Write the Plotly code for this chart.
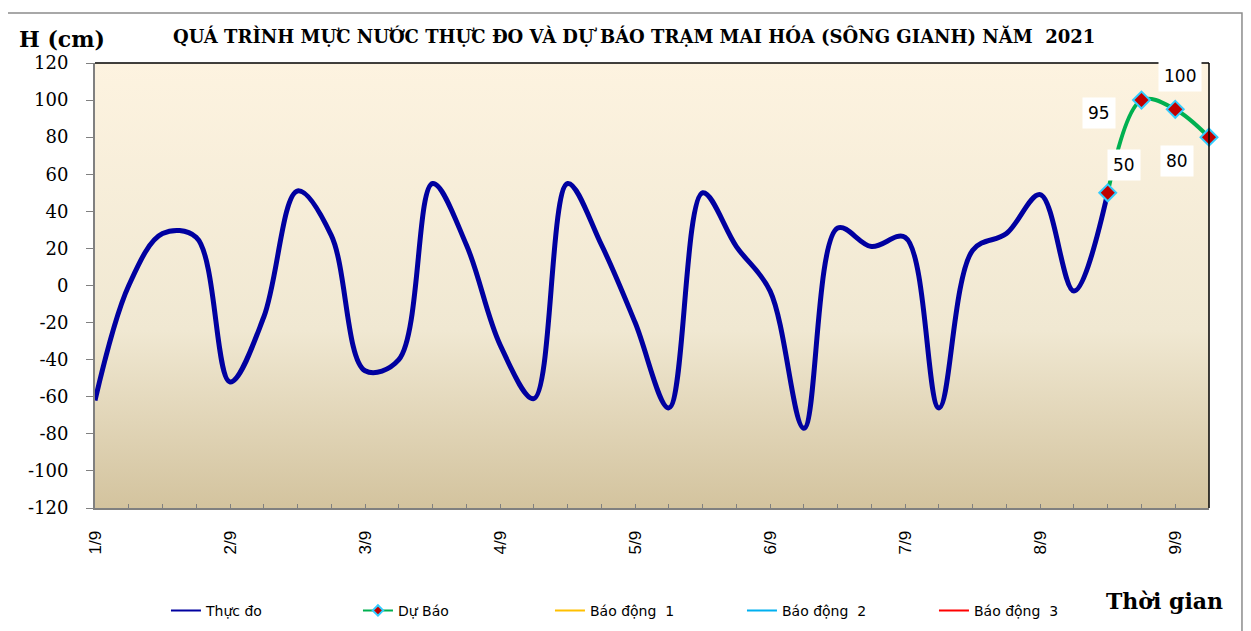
import plotly.graph_objects as go

# ---- data (6-hourly points, from 1/9 00h) ----
day_labels = ["1/9", "2/9", "3/9", "4/9", "5/9", "6/9", "7/9", "8/9", "9/9"]
steps_per_day = 4
observed = [-62, 0, 28, 26, -52, -17, 51, 27, -46, -40, 55, 22, -32, -61, 55, 22,
            -20, -66, 50, 21, -3, -77, 31, 21, 26, -66, 19, 28, 49, -3, 50]
forecast = [50, 100, 95, 80]
forecast_start = len(observed) - 1
y_ticks = [-120, -100, -80, -60, -40, -20, 0, 20, 40, 60, 80, 100, 120]
y_tick_text = [str(v) for v in y_ticks]
alarm_names = ["Báo động\u00a0 1", "Báo động\u00a0 2", "Báo động\u00a0 3"]
alarm_colors = ["#FFC000", "#00B0F0", "#FF0000"]

n_points = len(observed) + len(forecast) - 1
x_obs = list(range(len(observed)))
x_fc = list(range(forecast_start, forecast_start + len(forecast)))
x_max = n_points - 1
y_min, y_max = y_ticks[0], y_ticks[-1]

fig = go.Figure()

# plot background gradient
fig.add_trace(go.Scatter(
    x=[0, x_max, x_max, 0, 0], y=[y_min, y_min, y_max, y_max, y_min],
    mode="lines", line=dict(width=0), fill="toself",
    fillgradient=dict(type="vertical", start=y_max, stop=y_min,
                      colorscale=[[0, "#FDF3E0"], [0.6, "#F0E8D2"], [1, "#D3C39E"]]),
    hoverinfo="skip", showlegend=False))

fig.add_trace(go.Scatter(
    x=x_obs, y=observed, name="Thực đo", mode="lines", showlegend=False,
    line=dict(color="#0000A0", width=5, shape="spline", smoothing=1.0)))

fig.add_trace(go.Scatter(
    x=x_fc, y=forecast, name="Dự Báo", mode="lines+markers", showlegend=False,
    cliponaxis=False,
    line=dict(color="#00B050", width=4, shape="spline", smoothing=1.0),
    marker=dict(symbol="diamond", size=13, color="#C00000",
                line=dict(color="#33CCFF", width=2))))

# legend entries (thin samples like the original legend)
fig.add_trace(go.Scatter(x=[None], y=[None], name="Thực đo", mode="lines",
                         line=dict(color="#0000A0", width=2)))
fig.add_trace(go.Scatter(x=[None], y=[None], name="Dự Báo", mode="lines+markers",
                         line=dict(color="#00B050", width=2),
                         marker=dict(symbol="diamond", size=8, color="#C00000",
                                     line=dict(color="#33CCFF", width=2))))
for nm, col in zip(alarm_names, alarm_colors):
    fig.add_trace(go.Scatter(x=[None], y=[None], name=nm, mode="lines",
                             line=dict(color=col, width=2)))

# data labels for forecast
label_shifts = [(16, 28), (39, 24), (-76, -4), (-32, -24)]
for xi, v, (dx, dy) in zip(x_fc, forecast, label_shifts):
    fig.add_annotation(x=xi, y=v, xref="x", yref="y", text=str(v), showarrow=False,
                       xshift=dx, yshift=dy, bgcolor="white", borderpad=5,
                       font=dict(family="DejaVu Sans", size=17, color="black"))

fig.add_annotation(x=-0.0296, y=1.054, xref="paper", yref="paper", text="<b>H (cm)</b>",
                   xanchor="center", yanchor="middle", showarrow=False,
                   font=dict(family="DejaVu Serif", size=22, color="black"))
fig.add_annotation(x=0.484, y=1.0607, xref="paper", yref="paper",
                   text="<b>QUÁ TRÌNH MỰC NƯỚC THỰC ĐO VÀ DỰ BÁO TRẠM MAI HÓA (SÔNG GIANH) NĂM\u00a0 2021</b>",
                   xanchor="center", yanchor="middle", showarrow=False,
                   font=dict(family="DejaVu Serif", size=18, color="black"))
fig.add_annotation(x=0.9605, y=-0.209, xref="paper", yref="paper", text="<b>Thời gian</b>",
                   xanchor="center", yanchor="middle", showarrow=False,
                   font=dict(family="DejaVu Serif", size=22, color="black"))

# frame lines
fig.add_shape(type="line", xref="paper", yref="paper", x0=0, x1=1, y0=1, y1=1,
              line=dict(color="black", width=1.5))
fig.add_shape(type="line", xref="paper", yref="paper", x0=1, x1=1, y0=0, y1=1,
              line=dict(color="black", width=1.5))
fig.add_shape(type="rect", xref="paper", yref="paper", x0=-0.0799, x1=1.0296,
              y0=-0.35, y1=1.1124, line=dict(color="#8C8C8C", width=1.5), layer="below")

tickvals = [i * steps_per_day for i in range(len(day_labels))]

fig.update_layout(
    width=1251, height=631,
    margin=dict(l=87, r=50, t=55, b=131),
    paper_bgcolor="white", plot_bgcolor="white",
    showlegend=True,
    legend=dict(orientation="h", x=0.0637, xanchor="left", y=-0.231, yanchor="middle",
                font=dict(family="DejaVu Sans", size=14, color="black"),
                entrywidth=147, bgcolor="rgba(0,0,0,0)"),
    xaxis=dict(range=[0, x_max], tickvals=tickvals, ticktext=day_labels, tickangle=-90,
               ticks="inside", ticklen=4, tickcolor="#808080", showgrid=False, zeroline=False,
               showline=True, linecolor="#808080", linewidth=2,
               minor=dict(dtick=1, ticks="inside", ticklen=4, tickcolor="#808080", showgrid=False),
               tickfont=dict(family="Liberation Sans", size=17, color="black"),
               ticklabelstandoff=14),
    yaxis=dict(range=[y_min, y_max], tickvals=y_ticks, ticktext=y_tick_text,
               ticks="outside", ticklen=7, tickcolor="#808080",
               showgrid=False, zeroline=False, showline=True, linecolor="#808080", linewidth=2,
               tickfont=dict(family="DejaVu Serif", size=18, color="black"),
               ticklabelstandoff=14),
)

fig.write_html("out.html")
